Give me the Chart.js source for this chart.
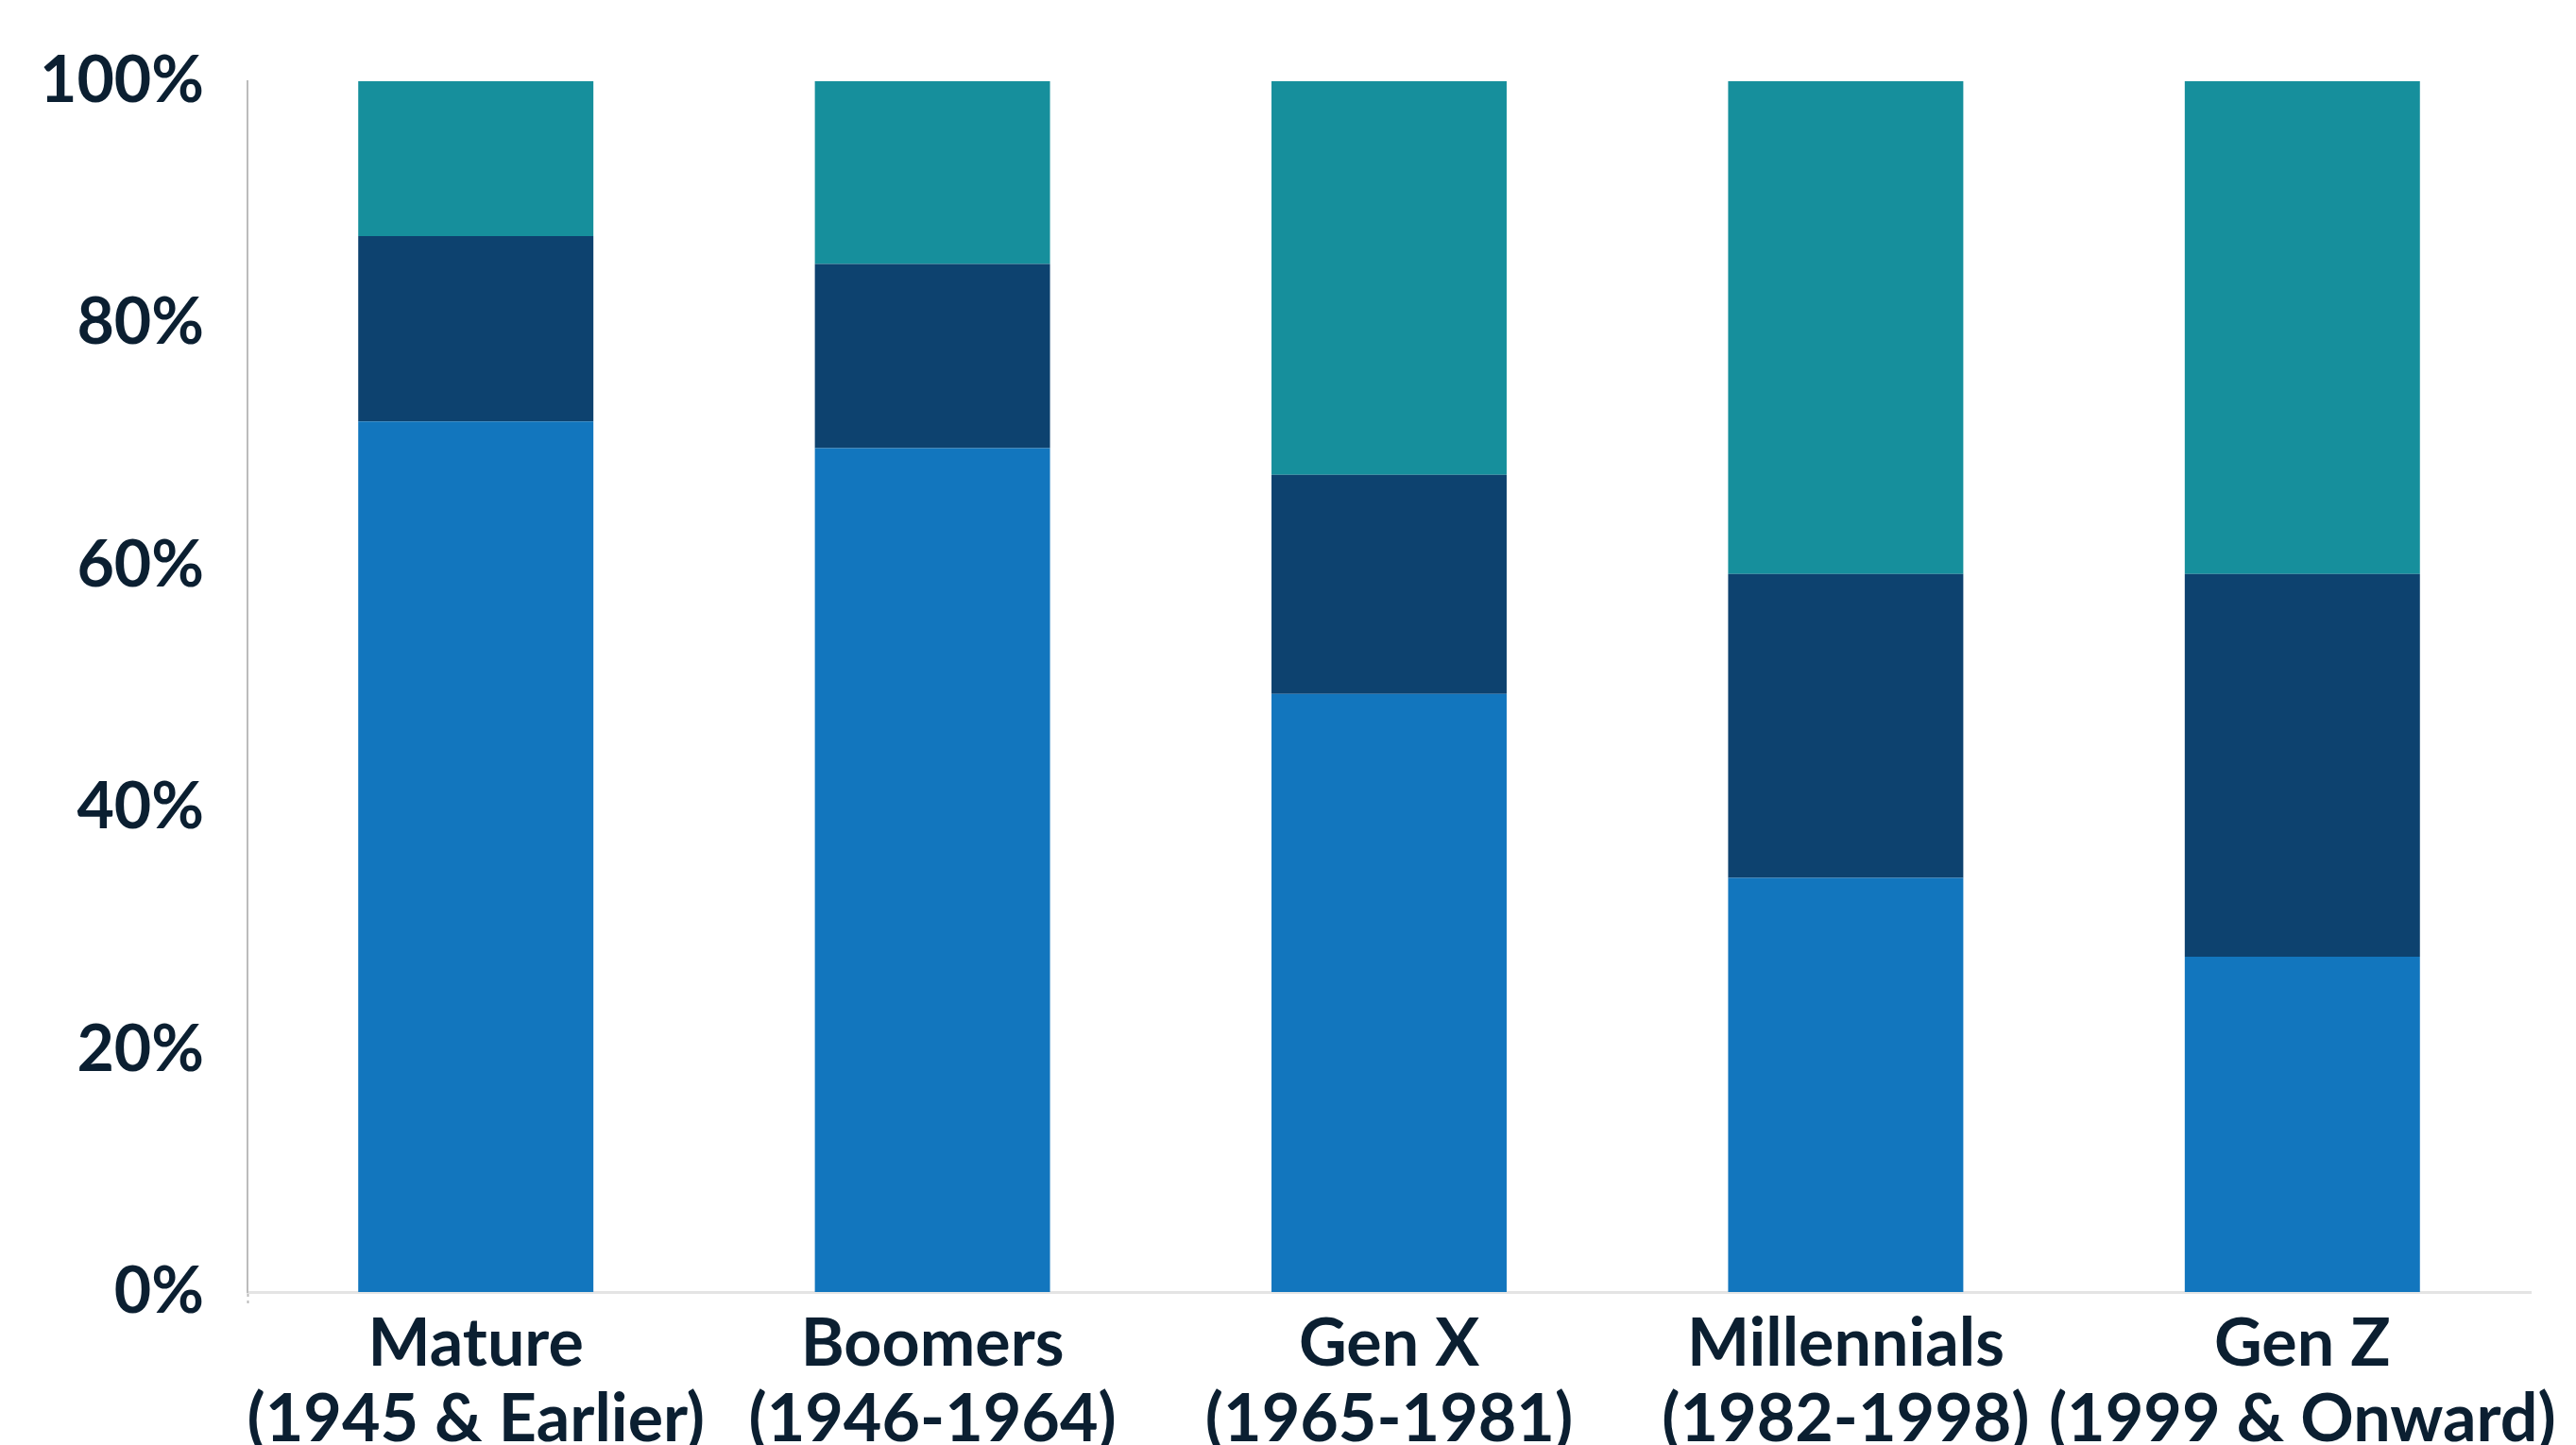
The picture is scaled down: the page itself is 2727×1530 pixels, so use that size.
<!DOCTYPE html>
<html>
<head>
<meta charset="utf-8">
<script src="https://cdn.jsdelivr.net/npm/chart.js"></script>
<style>
  html, body { margin: 0; padding: 0; background: #ffffff; }
  #wrap { width: 2727px; height: 1530px; overflow: hidden; }
</style>
</head>
<body>
<div id="wrap"><canvas id="chart" width="2727" height="1530"></canvas></div>
<script>
// generations, two-line axis labels
const generations = [
  ['Mature', '(1945 & Earlier)'],
  ['Boomers', '(1946-1964)'],
  ['Gen X', '(1965-1981)'],
  ['Millennials', '(1982-1998)'],
  ['Gen Z', '(1999 & Onward)']
];

// share of each generation, in percent (stacked bottom to top)
const bottomShare = [71.9, 69.7, 49.4, 34.2, 27.7];
const middleShare = [15.3, 15.2, 18.1, 25.1, 31.6];
const topShare    = [12.8, 15.1, 32.5, 40.7, 40.7];

const yTicks = [0, 20, 40, 60, 80, 100];

const inkColor = '#0b1f31';
const axisGrey = '#bcbcbc';
const fontFamily = 'Lato, "Noto Sans", sans-serif';

const ctx = document.getElementById('chart').getContext('2d');

new Chart(ctx, {
  type: 'bar',
  data: {
    labels: generations,
    datasets: [
      { label: 'bottom', data: bottomShare, backgroundColor: '#1276be' },
      { label: 'middle', data: middleShare, backgroundColor: '#0d426f' },
      { label: 'top',    data: topShare,    backgroundColor: '#168f9c' }
    ]
  },
  options: {
    responsive: false,
    animation: false,
    devicePixelRatio: 1,
    layout: { padding: { top: 86, right: 48, left: 0, bottom: 0 } },
    datasets: {
      bar: { categoryPercentage: 1, barPercentage: 0.515, borderWidth: 0 }
    },
    plugins: {
      legend: { display: false },
      tooltip: { enabled: false }
    },
    scales: {
      x: {
        stacked: true,
        // only the first tick mark is shown, continuing the dotted y axis below zero
        grid: {
          display: true,
          drawOnChartArea: false,
          drawTicks: true,
          tickLength: 14,
          tickWidth: 2,
          tickBorderDash: [3, 4],
          tickColor: c => (c.index === 0 ? axisGrey : 'rgba(0,0,0,0)')
        },
        border: { display: true, color: '#e4e4e4', width: 3 },
        ticks: {
          color: inkColor,
          padding: 2,
          maxRotation: 0,
          autoSkip: false,
          font: { family: fontFamily, size: 70, weight: 'bold', lineHeight: 1.14 }
        },
        afterFit: scale => { scale.height = 162; }
      },
      y: {
        stacked: true,
        min: 0,
        max: 100,
        afterBuildTicks: scale => {
          scale.ticks = yTicks.map(v => ({ value: v }));
        },
        grid: { display: false },
        border: { display: true, color: axisGrey, width: 2, dash: [3, 4] },
        ticks: {
          color: inkColor,
          padding: 38,
          callback: v => v + '%',
          font: { family: fontFamily, size: 68, weight: 'bold' }
        },
        afterFit: scale => { scale.width = 262; }
      }
    }
  }
});
</script>
</body>
</html>
